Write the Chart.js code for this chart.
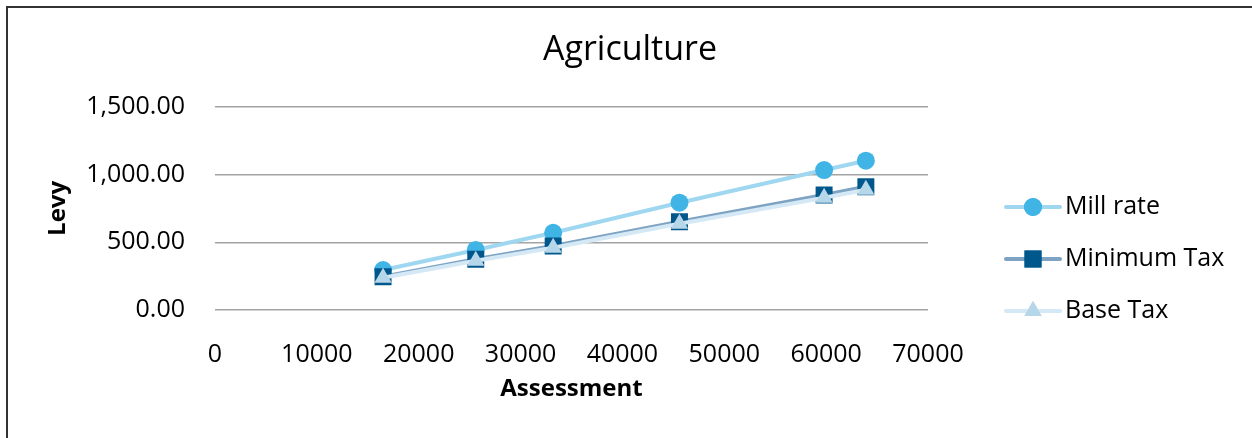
<!DOCTYPE html>
<html>
<head>
<meta charset="utf-8">
<script src="https://cdn.jsdelivr.net/npm/chart.js@4/dist/chart.umd.min.js"></script>
<style>
  html, body { margin: 0; padding: 0; background: #fff; }
  #wrap { position: relative; width: 1252px; height: 438px; overflow: hidden; }
  #frame { position: absolute; left: 6px; top: 6px; right: -4px; bottom: -4px; border-left: 2px solid #333; border-top: 2px solid #333; pointer-events: none; }
  canvas { position: absolute; left: 0; top: 0; }
</style>
</head>
<body>
<div id="wrap">
  <canvas id="chart" width="1252" height="438"></canvas>
  <div id="frame"></div>
</div>
<script>
const assessment = [16500, 25600, 33200, 45600, 59800, 63900];
const millRate = [295, 443, 570, 792, 1033, 1102];
const minimumTax = [246, 374, 472, 652, 849, 910];
const baseTax = [238, 364, 460, 637, 829, 888];
const seriesNames = ["Mill rate", "Minimum Tax", "Base Tax"];
const xTicks = [0, 10000, 20000, 30000, 40000, 50000, 60000, 70000];
const yTicks = [0, 500, 1000, 1500];

const FONT = "'Open Sans', 'Liberation Sans', sans-serif";
const points = (ys) => assessment.map((x, i) => ({ x, y: ys[i] }));

// legend drawn by hand: Excel style line + marker sample
const legendPlugin = {
  id: "excelLegend",
  afterDraw(chart) {
    const ctx = chart.ctx;
    chart.data.datasets.forEach((ds, i) => {
      const y = 207 + i * 52, x0 = 1006, x1 = 1060, cx = (x0 + x1) / 2;
      ctx.save();
      ctx.strokeStyle = ds.borderColor;
      ctx.lineWidth = ds.borderWidth;
      ctx.lineCap = "round";
      ctx.beginPath(); ctx.moveTo(x0, y); ctx.lineTo(x1, y); ctx.stroke();
      ctx.fillStyle = ds.pointBackgroundColor;
      Chart.helpers.drawPoint(ctx, { pointStyle: ds.pointStyle, radius: ds.pointRadius, borderWidth: 0, rotation: 0 }, cx, y);
      ctx.fill();
      ctx.fillStyle = "#000";
      ctx.font = "25px " + FONT;
      ctx.textBaseline = "middle";
      ctx.fillText(ds.label, 1065, y);
      ctx.restore();
    });
  },
};

const common = { showLine: true, pointBorderWidth: 0, pointHoverRadius: 0 };

new Chart(document.getElementById("chart"), {
  type: "scatter",
  data: {
    datasets: [
      { ...common, label: seriesNames[0], data: points(millRate), borderColor: "#a0d7f0", borderWidth: 4,
        pointStyle: "circle", pointRadius: 9, pointBackgroundColor: "#40b4e5", backgroundColor: "#40b4e5", order: 3 },
      { ...common, label: seriesNames[1], data: points(minimumTax), borderColor: "#7ea3c3", borderWidth: 4,
        pointStyle: "rect", pointRadius: 12, pointBackgroundColor: "#00578b", backgroundColor: "#00578b", order: 2 },
      { ...common, label: seriesNames[2], data: points(baseTax), borderColor: "#d4e9f5", borderWidth: 4,
        pointStyle: "triangle", pointRadius: 10, pointBackgroundColor: "#b6d6ea", backgroundColor: "#b6d6ea", order: 1 },
    ],
  },
  options: {
    responsive: false,
    animation: false,
    layout: { padding: { left: 8, top: 0, right: 0, bottom: 0 } },
    plugins: {
      legend: { display: false },
      tooltip: { enabled: false },
      title: {
        display: true, text: "Agriculture", color: "#000",
        font: { family: FONT, size: 34, weight: "normal" },
        padding: { top: 30, bottom: 36 },
      },
    },
    scales: {
      x: {
        type: "linear", min: 0, max: 70000,
        afterBuildTicks: (s) => { s.ticks = xTicks.map((v) => ({ value: v })); },
        afterFit: (s) => { s.height = 128; s.paddingLeft = 0; s.paddingRight = 0; },
        grid: { display: false },
        border: { display: false },
        ticks: { color: "#000", font: { family: FONT, size: 25 }, padding: 22, maxRotation: 0, callback: (v) => String(v) },
        title: { display: true, text: "Assessment", color: "#000", font: { family: FONT, size: 24, weight: "bold" }, padding: { top: 0, bottom: 34 } },
      },
      y: {
        min: 0, max: 1500,
        afterBuildTicks: (s) => { s.ticks = yTicks.map((v) => ({ value: v })); },
        afterFit: (s) => { s.width = 207; s.paddingTop = 0; s.paddingBottom = 0; },
        grid: { color: "#a3a3a3", lineWidth: 1.5, drawTicks: false },
        border: { display: false },
        ticks: {
          color: "#000", font: { family: FONT, size: 25 }, padding: 30,
          callback: (v) => v.toLocaleString("en-US", { minimumFractionDigits: 2, maximumFractionDigits: 2 }),
        },
        title: { display: true, text: "Levy", color: "#000", font: { family: FONT, size: 24, weight: "bold" }, padding: { top: 36, bottom: 0 } },
      },
      // empty right-hand box that keeps room for the legend column
      legendSpace: {
        type: "linear", position: "right", axis: "y",
        afterFit: (s) => { s.width = 324; s.paddingTop = 0; s.paddingBottom = 0; },
        grid: { display: false }, border: { display: false }, ticks: { display: false },
      },
    },
  },
  plugins: [legendPlugin],
});
</script>
</body>
</html>
